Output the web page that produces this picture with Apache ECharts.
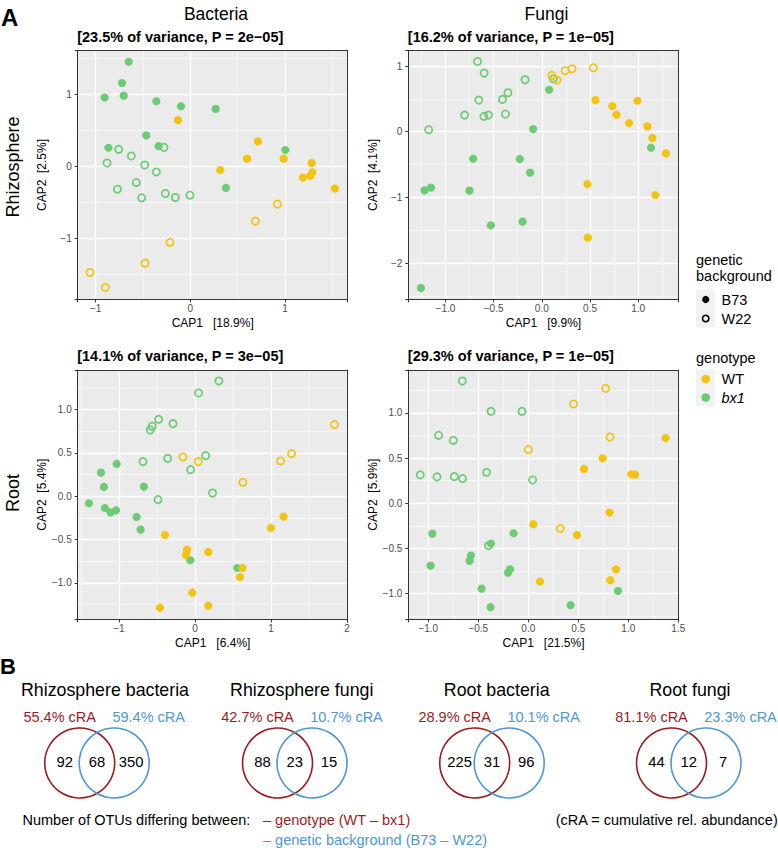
<!DOCTYPE html>
<html>
<head>
<meta charset="utf-8">
<script src="https://cdn.jsdelivr.net/npm/echarts@6/dist/echarts.min.js"></script>
<style>html,body{margin:0;padding:0;background:#fff}#c{width:778px;height:848px}</style>
</head>
<body>
<div id="c"></div>
<script>
// ---------------- DATA ----------------
// Rhizosphere bacteria
const rhizoBac_bx1_B73 = [[-0.651,1.448],[-0.722,1.154],[-0.905,0.952],[-0.704,0.979],[-0.359,0.901],[-0.099,0.832],[0.268,0.795],[-0.465,0.428],[-0.866,0.257],[-0.335,0.28],[1.004,0.225],[0.377,-0.299]];
const rhizoBac_bx1_W22 = [[-0.278,0.262],[-0.757,0.234],[-0.623,0.143],[-0.880,0.046],[-0.482,0.018],[-0.359,-0.078],[-0.570,-0.225],[-0.771,-0.317],[-0.514,-0.437],[-0.264,-0.377],[-0.158,-0.432],[-0.004,-0.40]];
const rhizoBac_WT_B73 = [[-0.130,0.639],[0.715,0.345],[0.599,0.106],[0.986,0.106],[0.317,-0.051],[1.282,0.046],[1.190,-0.156],[1.268,-0.133],[1.289,-0.083],[1.528,-0.308]];
const rhizoBac_WT_W22 = [[0.919,-0.524],[0.687,-0.759],[-0.215,-1.053],[-0.479,-1.343],[-1.060,-1.471],[-0.898,-1.678]];
// Rhizosphere fungi
const rhizoFun_bx1_B73 = [[0.076,0.639],[-0.090,0.041],[-0.712,-0.411],[-0.228,-0.416],[-0.121,-0.623],[-0.750,-0.897],[-1.216,-0.892],[-1.150,-0.851],[-0.528,-1.424],[-0.200,-1.368],[-1.254,-2.377],[1.133,-0.243]];
const rhizoFun_bx1_W22 = [[-0.667,1.069],[-0.598,0.892],[-0.173,0.791],[-0.352,0.593],[-0.408,0.492],[-0.653,0.481],[-0.801,0.253],[-0.601,0.233],[-0.553,0.253],[-0.377,0.269],[-1.174,0.030],[0.120,0.805]];
const rhizoFun_WT_B73 = [[0.556,0.481],[0.732,0.390],[0.774,0.258],[0.991,0.471],[0.905,0.132],[1.095,0.081],[1.147,-0.096],[1.288,-0.329],[0.473,-0.796],[1.178,-0.963],[0.477,-1.612]];
const rhizoFun_WT_W22 = [[0.104,0.857],[0.159,0.786],[0.242,0.928],[0.314,0.958],[0.535,0.973]];
// Root bacteria
const rootBac_bx1_B73 = [[-1.235,0.273],[-1.029,0.373],[-1.196,0.108],[-0.670,0.112],[-1.393,-0.081],[-1.183,-0.135],[-1.108,-0.185],[-1.038,-0.162],[-0.767,-0.238],[-0.714,-0.385],[-0.061,-0.738],[0.556,-0.827]];
const rootBac_bx1_W22 = [[0.315,1.331],[0.048,1.192],[-0.477,0.888],[-0.561,0.808],[-0.587,0.765],[-0.289,0.838],[-0.683,0.40],[-0.359,0.438],[0.140,0.469],[-0.057,0.308],[0.232,0.038],[-0.486,-0.038]];
const rootBac_WT_B73 = [[-0.394,-0.446],[-0.105,-0.615],[-0.118,-0.677],[0.175,-0.642],[1.165,-0.235],[0.999,-0.365],[0.626,-0.827],[0.591,-0.931],[-0.035,-1.112],[-0.460,-1.285],[0.175,-1.262]];
const rootBac_WT_W22 = [[-0.158,0.454],[0.044,0.40],[1.835,0.827],[1.270,0.492],[1.126,0.408],[0.631,0.162]];
// Root fungi
const rootFun_bx1_B73 = [[-0.960,-0.336],[-0.147,-0.332],[-0.373,-0.446],[-0.573,-0.579],[-0.587,-0.638],[-0.977,-0.690],[-0.183,-0.731],[-0.203,-0.768],[-0.467,-0.945],[-0.377,-1.151],[0.423,-1.129],[0.897,-0.970]];
const rootFun_bx1_W22 = [[-0.660,1.354],[-0.373,1.018],[-0.063,1.018],[-0.897,0.753],[-0.750,0.697],[-1.080,0.314],[-0.913,0.292],[-0.740,0.295],[-0.657,0.273],[-0.417,0.343],[0.043,0.258],[-0.397,-0.469]];
const rootFun_WT_B73 = [[1.373,0.723],[0.743,0.498],[0.557,0.380],[1.030,0.321],[1.067,0.317],[0.813,-0.103],[0.050,-0.232],[0.487,-0.351],[0.877,-0.731],[0.820,-0.852],[0.117,-0.867]];
const rootFun_WT_W22 = [[0.773,1.273],[0.453,1.100],[0.817,0.734],[0.000,0.594],[0.320,-0.280]];

const columnTitles = ['Bacteria', 'Fungi'];
const rowTitles = ['Rhizosphere', 'Root'];
const panelVariance = ['23.5%', '16.2%', '14.1%', '29.3%'];
const panelP = ['2e−05', '1e−05', '3e−05', '1e−05'];
const cap1Pct = ['18.9%', '9.9%', '6.4%', '21.5%'];
const cap2Pct = ['2.5%', '4.1%', '5.4%', '5.9%'];
const axisStepX = [1, 0.5, 1, 0.5];
const axisStepY = [1, 1, 0.5, 0.5];

const vennTitles = ['Rhizosphere bacteria', 'Rhizosphere fungi', 'Root bacteria', 'Root fungi'];
const vennGenotypeOnly = [92, 88, 225, 44];
const vennShared = [68, 23, 31, 12];
const vennBackgroundOnly = [350, 15, 96, 7];
const vennGenotypeCRA = ['55.4%', '42.7%', '28.9%', '81.1%'];
const vennBackgroundCRA = ['59.4%', '10.7%', '10.1%', '23.3%'];

// ---------------- STYLE / LAYOUT ----------------
const FONT = '"Liberation Sans", Arial, Helvetica, sans-serif';
const YELLOW = '#F2C40F', GREEN = '#6DCB76', RED = '#9B1C1F', BLUE = '#4F96D6';

const panelData = [
  [rhizoBac_bx1_B73, rhizoBac_bx1_W22, rhizoBac_WT_B73, rhizoBac_WT_W22],
  [rhizoFun_bx1_B73, rhizoFun_bx1_W22, rhizoFun_WT_B73, rhizoFun_WT_W22],
  [rootBac_bx1_B73, rootBac_bx1_W22, rootBac_WT_B73, rootBac_WT_W22],
  [rootFun_bx1_B73, rootFun_bx1_W22, rootFun_WT_B73, rootFun_WT_W22]
];
const layout = [
  {left: 77.7, top: 50.7, width: 270, height: 248.6, xMin: -1.19, xMax: 1.663, yMin: -1.842, yMax: 1.601},
  {left: 408.3, top: 50.7, width: 270.4, height: 248.6, xMin: -1.385, xMax: 1.42, yMin: -2.55, yMax: 1.233},
  {left: 77.7, top: 370, width: 270, height: 249.3, xMin: -1.541, xMax: 2.008, yMin: -1.419, yMax: 1.457},
  {left: 408.3, top: 370, width: 270.4, height: 249.3, xMin: -1.20, xMax: 1.504, yMin: -1.285, yMax: 1.476}
];

function fmt(step) {
  const dec = step < 1 ? 1 : 0;
  return function (v) {
    const r = Math.round(v / step) * step;
    if (Math.abs(v - r) > 1e-6) return '';
    let s = (Math.abs(r) < 1e-9 ? 0 : r).toFixed(dec);
    return s.replace('-', '−');
  };
}

const grids = [], xAxes = [], yAxes = [], series = [];
layout.forEach((L, i) => {
  grids.push({left: L.left, top: L.top, width: L.width, height: L.height, show: true,
    backgroundColor: '#EBEBEB', borderWidth: 0, containLabel: false});
  const common = (min, max, step, isX, major) => ({
    type: 'value', gridIndex: i, min, max, minInterval: step, maxInterval: step,
    position: major ? (isX ? 'bottom' : 'left') : (isX ? 'top' : 'right'),
    axisLine: {show: true, onZero: false, lineStyle: {color: '#333333', width: 1}},
    axisTick: {show: major, length: 3, lineStyle: {color: '#333333', width: 1}},
    axisLabel: {show: major, margin: isX ? 4 : 6, color: '#4D4D4D', fontSize: 10, fontFamily: FONT,
      formatter: fmt(step)},
    splitLine: {show: true, showMinLine: false, showMaxLine: false,
      lineStyle: {color: '#FFFFFF', width: major ? 1.3 : 0.6}},
    minorTick: {show: false}, minorSplitLine: {show: false},
    silent: true
  });
  const sx = axisStepX[i], sy = axisStepY[i];
  xAxes.push(Object.assign(common(L.xMin, L.xMax, sx, true, true), {
    name: 'CAP1   [' + cap1Pct[i] + ']', nameLocation: 'middle', nameGap: 17.5,
    nameTextStyle: {color: '#000', fontSize: 12, fontFamily: FONT}}));
  xAxes.push(common(L.xMin, L.xMax, sx / 2, true, false));
  yAxes.push(Object.assign(common(L.yMin, L.yMax, sy, false, true), {
    name: 'CAP2  [' + cap2Pct[i] + ']', nameLocation: 'middle', nameGap: 29.5,
    nameTextStyle: {color: '#000', fontSize: 12, fontFamily: FONT}}));
  yAxes.push(common(L.yMin, L.yMax, sy / 2, false, false));

  const groups = [
    {data: panelData[i][0], color: GREEN, open: false},
    {data: panelData[i][1], color: GREEN, open: true},
    {data: panelData[i][2], color: YELLOW, open: false},
    {data: panelData[i][3], color: YELLOW, open: true}
  ];
  groups.forEach(g => {
    series.push({
      type: 'scatter', xAxisIndex: 2 * i, yAxisIndex: 2 * i, data: g.data,
      symbol: 'circle', symbolSize: g.open ? 7.3 : 8.2, silent: true,
      itemStyle: g.open ? {color: 'rgba(0,0,0,0)', borderColor: g.color, borderWidth: 1.7, opacity: 1}
                        : {color: g.color, opacity: 1},
      emphasis: {disabled: true}, z: 3
    });
  });
});

function txt(text, x, y, o) {
  o = o || {};
  return {type: 'text', x, y, rotation: o.rot || 0, silent: true, z: 100,
    style: {text, fill: o.color || '#000', fontSize: o.size || 12, fontFamily: FONT,
      fontWeight: o.weight || 'normal', fontStyle: o.italic ? 'italic' : 'normal',
      align: o.align || 'left', verticalAlign: 'middle',
      textAlign: o.align || 'left', textVerticalAlign: 'middle'}};
}

const g = [];
// Panel letters
g.push(txt('A', 1, 17, {size: 24, weight: 'bold'}));
g.push(txt('B', 0, 666, {size: 22, weight: 'bold'}));
// Column titles
g.push(txt(columnTitles[0], 216, 13.5, {size: 17.5, align: 'center'}));
g.push(txt(columnTitles[1], 546.5, 13.5, {size: 17.5, align: 'center'}));
// Row titles
g.push(txt(rowTitles[0], 13, 167, {size: 18, align: 'center', rot: Math.PI / 2}));
g.push(txt(rowTitles[1], 13, 493, {size: 18, align: 'center', rot: Math.PI / 2}));
// Panel subtitles
layout.forEach((L, i) => {
  g.push(txt('[' + panelVariance[i] + ' of variance, P = ' + panelP[i] + ']', L.left - 0.5, L.top - 14, {size: 14.5, weight: 'bold'}));
});

// Legend
const LX = 696, KW = 19, TX = 721.5;
g.push(txt('genetic', LX, 259.5, {size: 14.5}));
g.push(txt('background', LX, 276, {size: 14.5}));
g.push({type: 'rect', shape: {x: LX, y: 289.5, width: KW, height: 38}, style: {fill: '#F2F2F2'}, silent: true, z: 90});
g.push({type: 'circle', shape: {cx: LX + 9.7, cy: 299.5, r: 3.6}, style: {fill: '#000'}, silent: true, z: 95});
g.push({type: 'circle', shape: {cx: LX + 9.7, cy: 318.5, r: 3.2}, style: {fill: 'rgba(0,0,0,0)', stroke: '#000', lineWidth: 1.6}, silent: true, z: 95});
g.push(txt('B73', TX, 299.5, {size: 14.5}));
g.push(txt('W22', TX, 318.5, {size: 14.5}));
g.push(txt('genotype', LX, 358, {size: 14.5}));
g.push({type: 'rect', shape: {x: LX, y: 369.5, width: KW, height: 37}, style: {fill: '#F2F2F2'}, silent: true, z: 90});
g.push({type: 'circle', shape: {cx: LX + 9.7, cy: 379, r: 4.3}, style: {fill: YELLOW}, silent: true, z: 95});
g.push({type: 'circle', shape: {cx: LX + 9.7, cy: 397.5, r: 4.3}, style: {fill: GREEN}, silent: true, z: 95});
g.push(txt('WT', TX, 379, {size: 14.5}));
g.push(txt('bx1', TX, 397.5, {size: 14.5, italic: true}));

// Venn diagrams
const vennRedCx = [79.7, 277.5, 474.7, 671.5];
const vennTitleX = [105, 301.7, 496.7, 690];
const VOFF = 34.5, VCY = 763, VR = 35;
vennTitles.forEach((t, i) => {
  const rc = vennRedCx[i], bc = rc + VOFF;
  g.push(txt(t, vennTitleX[i], 689.5, {size: 17.8, align: 'center'}));
  g.push(txt(vennGenotypeCRA[i] + ' cRA', rc - 20, 716.7, {size: 14.5, align: 'center', color: RED}));
  g.push(txt(vennBackgroundCRA[i] + ' cRA', bc + 34.5, 716.7, {size: 14.5, align: 'center', color: BLUE}));
  g.push({type: 'circle', shape: {cx: rc, cy: VCY, r: VR}, style: {fill: 'rgba(0,0,0,0)', stroke: RED, lineWidth: 1.6}, silent: true, z: 50});
  g.push({type: 'circle', shape: {cx: bc, cy: VCY, r: VR}, style: {fill: 'rgba(0,0,0,0)', stroke: BLUE, lineWidth: 1.6}, silent: true, z: 51});
  g.push(txt(String(vennGenotypeOnly[i]), rc - 15, 762, {size: 14.8, align: 'center'}));
  g.push(txt(String(vennShared[i]), (rc + bc) / 2, 762, {size: 14.8, align: 'center'}));
  g.push(txt(String(vennBackgroundOnly[i]), bc + 17, 762, {size: 14.8, align: 'center'}));
});
g.push(txt('Number of OTUs differing between:', 22.5, 819.5, {size: 14.5}));
g.push(txt('– genotype (WT – bx1)', 263, 819.5, {size: 14.5, color: RED}));
g.push(txt('– genetic background (B73 – W22)', 263, 840, {size: 14.5, color: BLUE}));
g.push(txt('(cRA = cumulative rel. abundance)', 666.7, 819.5, {size: 14.5, align: 'center'}));

const chart = echarts.init(document.getElementById('c'), null, {renderer: 'svg', width: 778, height: 848});
chart.setOption({
  animation: false,
  backgroundColor: '#FFFFFF',
  textStyle: {fontFamily: FONT},
  grid: grids,
  xAxis: xAxes,
  yAxis: yAxes,
  series: series,
  graphic: {elements: g}
});
</script>
</body>
</html>
